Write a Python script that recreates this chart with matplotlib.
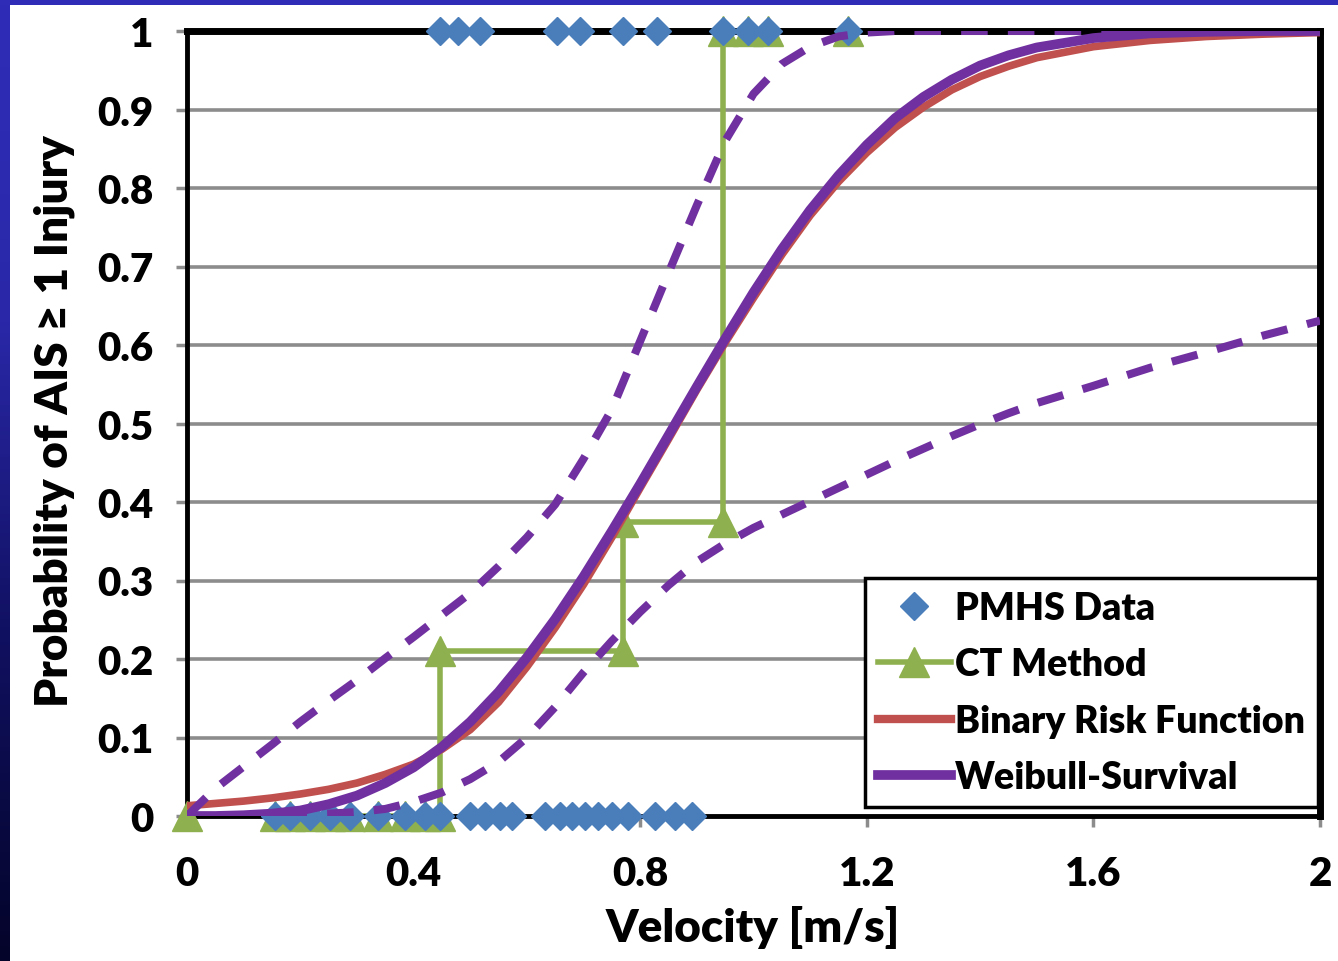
import numpy as np
import matplotlib
matplotlib.use('Agg')
import matplotlib.pyplot as plt
from matplotlib.lines import Line2D
from matplotlib.patches import Rectangle
from matplotlib.colors import LinearSegmentedColormap

# PMHS test data: velocity [m/s] of injured (1) and uninjured (0) specimens
pmhs_inj_v = [0.447, 0.478, 0.517, 0.653, 0.694, 0.770, 0.830, 0.946, 0.990, 1.026, 1.167]
pmhs_noinj_v = [0.155, 0.182, 0.217, 0.252, 0.288, 0.337, 0.385, 0.420, 0.447, 0.500, 0.526,
                0.553, 0.574, 0.632, 0.658, 0.680, 0.703, 0.726, 0.750, 0.778, 0.826, 0.861, 0.891]

# CT method step estimate
ct_v = [0.0, 0.155, 0.182, 0.217, 0.252, 0.288, 0.337, 0.385, 0.420, 0.447,
        0.447, 0.770, 0.770, 0.946, 0.946, 0.990, 1.026, 1.167]
ct_p = [0, 0, 0, 0, 0, 0, 0, 0, 0, 0,
        0.21, 0.21, 0.375, 0.375, 1.0, 1.0, 1.0, 1.0]

# risk curves
curve_v = [0.0, 0.05, 0.1, 0.15, 0.2, 0.25, 0.3, 0.35, 0.4, 0.45, 0.5, 0.55, 0.6, 0.65, 0.7, 0.75,
           0.8, 0.85, 0.9, 0.95, 1.0, 1.05, 1.1, 1.15, 1.2, 1.25, 1.3, 1.35, 1.4, 1.45, 1.5,
           1.6, 1.7, 1.8, 1.9, 2.0]
binary_p = [0.013, 0.016, 0.019, 0.023, 0.028, 0.034, 0.042, 0.053, 0.066, 0.085, 0.110, 0.145,
            0.190, 0.240, 0.295, 0.355, 0.418, 0.480, 0.543, 0.603, 0.660, 0.715, 0.765, 0.808,
            0.845, 0.877, 0.903, 0.925, 0.942, 0.955, 0.966, 0.980, 0.988, 0.993, 0.996, 0.998]
weibull_p = [0.0, 0.0, 0.001, 0.003, 0.007, 0.015, 0.026, 0.042, 0.062, 0.088, 0.120, 0.158,
             0.202, 0.251, 0.305, 0.363, 0.423, 0.485, 0.547, 0.608, 0.667, 0.722, 0.772, 0.816,
             0.855, 0.889, 0.916, 0.938, 0.956, 0.969, 0.979, 0.991, 0.997, 0.999, 1.0, 1.0]
weibull_hi = [0.0, 0.035, 0.063, 0.091, 0.120, 0.147, 0.173, 0.201, 0.228, 0.256, 0.284, 0.318,
              0.355, 0.397, 0.455, 0.518, 0.605, 0.692, 0.778, 0.860, 0.920, 0.958, 0.980, 0.993,
              0.998, 1.0, 1.0, 1.0, 1.0, 1.0, 1.0, 1.0, 1.0, 1.0, 1.0, 1.0]
weibull_lo = [0.0, 0.0, 0.001, 0.001, 0.002, 0.003, 0.005, 0.009, 0.018, 0.030, 0.047, 0.069,
              0.100, 0.139, 0.183, 0.223, 0.260, 0.294, 0.324, 0.347, 0.367, 0.384, 0.401, 0.418,
              0.435, 0.452, 0.468, 0.484, 0.499, 0.513, 0.526, 0.548, 0.571, 0.591, 0.612, 0.631]

x_ticks = [0, 0.4, 0.8, 1.2, 1.6, 2]
x_ticklabels = ['0', '0.4', '0.8', '1.2', '1.6', '2']
y_ticks = [0, 0.1, 0.2, 0.3, 0.4, 0.5, 0.6, 0.7, 0.8, 0.9, 1]
y_ticklabels = ['0', '0.1', '0.2', '0.3', '0.4', '0.5', '0.6', '0.7', '0.8', '0.9', '1']

BLUE = '#4a7ebb'
GREEN = '#8fb04e'
RED = '#c0504d'
PURPLE = '#7030a0'
GRID = '#8c8c8c'

plt.rcParams['font.family'] = ['Lato', 'DejaVu Sans']
plt.rcParams['font.weight'] = 'heavy'

W, H = 1338, 962
fig = plt.figure(figsize=(W / 100, H / 100), dpi=100, facecolor='white')

# slide background strips (blue band on top, fading band on the left)
bg = fig.add_axes([0, 0, 1, 1], zorder=-5)
bg.axis('off')
grad = np.linspace(0, 1, 256).reshape(-1, 1)
side_cmap = LinearSegmentedColormap.from_list('side', ['#2f2db8', '#2a28a8', '#101060', '#04042a'])
bg.imshow(grad, cmap=side_cmap, extent=[0, 10, H, 0], aspect='auto')
bg.add_patch(Rectangle((0, 0), W, 6, color='#2f2db8', lw=0))
bg.set_xlim(0, W)
bg.set_ylim(H, 0)

ax = fig.add_axes([187 / W, 1 - 817 / H, (1320 - 187) / W, (817 - 32) / H])
ax.set_xlim(0, 2)
ax.set_ylim(0, 1)

for y in y_ticks[1:-1]:
    ax.axhline(y, color=GRID, lw=2.6, zorder=1)

# CT method: line below the spine, markers on top
ax.plot(ct_v, ct_p, color=GREEN, lw=4, zorder=2.2)
ax.plot(ct_v, ct_p, color=GREEN, ls='none', marker='^', ms=21, mec=GREEN, zorder=3, clip_on=False)

ax.plot(pmhs_inj_v, [1] * len(pmhs_inj_v), ls='none', marker='D', ms=14, color=BLUE,
        mec=BLUE, zorder=3.5, clip_on=False)
ax.plot(pmhs_noinj_v, [0] * len(pmhs_noinj_v), ls='none', marker='D', ms=14, color=BLUE,
        mec=BLUE, zorder=3.5, clip_on=False)

ax.plot(curve_v, binary_p, color=RED, lw=5.5, zorder=4, solid_joinstyle='round')
ax.plot(curve_v, weibull_p, color=PURPLE, lw=7, zorder=4.5, solid_joinstyle='round')
for band in (weibull_hi, weibull_lo):
    ln, = ax.plot(curve_v, band, color=PURPLE, lw=5.8, zorder=4.6)
    ln.set_dashes((3.3, 2.5))

for side in ('left', 'bottom'):
    ax.spines[side].set_linewidth(3.5)
for side in ('top', 'right'):
    ax.spines[side].set_linewidth(5)
for sp in ax.spines.values():
    sp.set_color('black')

ax.set_xticks(x_ticks)
ax.set_xticklabels(x_ticklabels)
ax.set_yticks(y_ticks)
ax.set_yticklabels(y_ticklabels)
ax.tick_params(axis='both', direction='out', length=8, width=2.5, color=GRID,
               labelsize=29, labelcolor='black')
ax.tick_params(axis='y', pad=16)
ax.tick_params(axis='x', pad=20)
for lab in ax.get_xticklabels() + ax.get_yticklabels():
    lab.set_fontweight('heavy')

ax.set_xlabel('Velocity [m/s]', fontsize=33, fontweight='heavy')
ax.set_ylabel('Probability of AIS \u2265 1 Injury', fontsize=33, fontweight='heavy')
ax.xaxis.set_label_coords(0.499, -0.114)
ax.yaxis.set_label_coords(-0.099, 0.504)

handles = [
    Line2D([], [], ls='none', marker='D', ms=14, color=BLUE),
    Line2D([], [], color=GREEN, lw=4, marker='^', ms=21),
    Line2D([], [], color=RED, lw=6),
    Line2D([], [], color=PURPLE, lw=7),
]
labels = ['PMHS Data', 'CT Method', 'Binary Risk Function', 'Weibull-Survival']
leg = ax.legend(handles, labels, loc='lower right', bbox_to_anchor=(0.998, 0.011),
                borderaxespad=0, handlelength=1.95, handletextpad=0.1,
                labelspacing=0.6, borderpad=0.35, fancybox=False, framealpha=1,
                edgecolor='black', prop={'weight': 'heavy', 'size': 27})
leg.get_frame().set_linewidth(2.5)
leg.set_zorder(6)

fig.savefig('out.png', dpi=100, facecolor='white')
